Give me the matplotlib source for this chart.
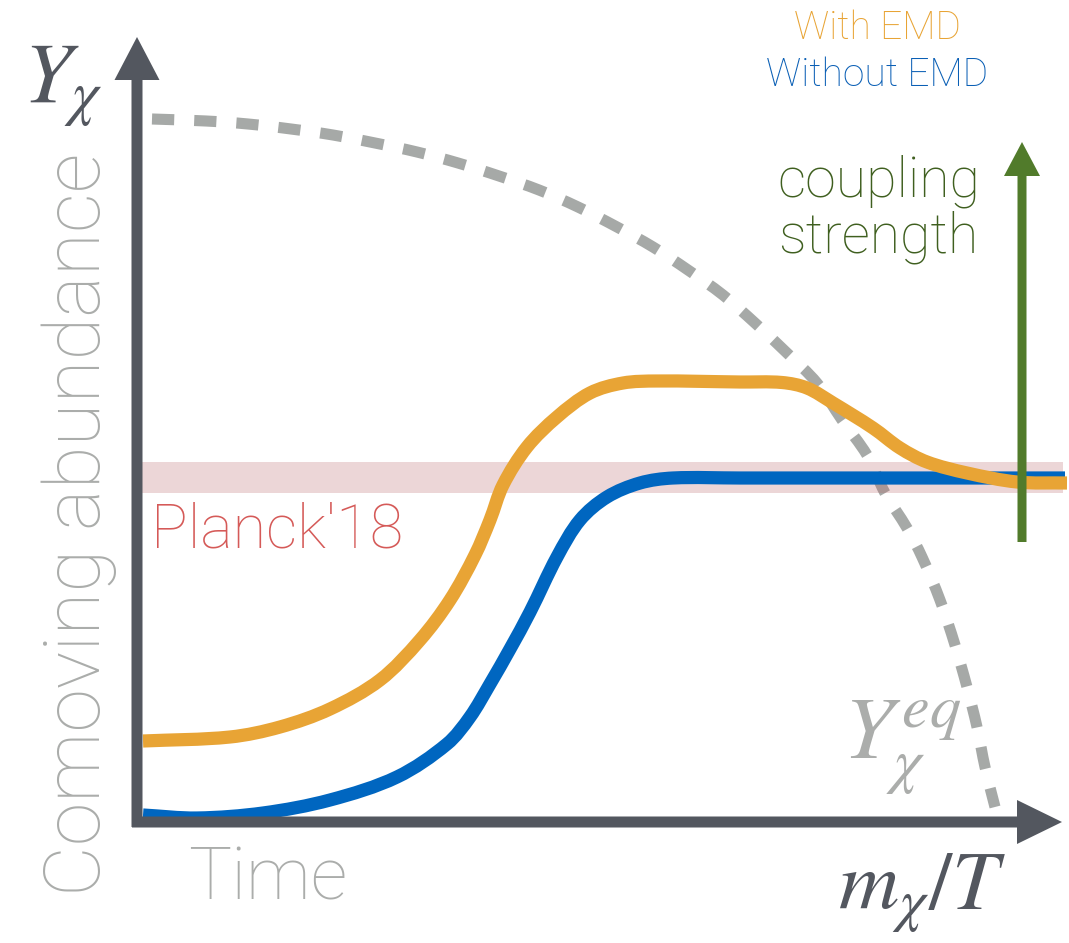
import matplotlib
matplotlib.use("Agg")
import math
import matplotlib.pyplot as plt
from matplotlib.path import Path
from matplotlib.patches import PathPatch

# ---------------- data (arbitrary schematic units) ----------------
# Equilibrium abundance Y_chi^eq (dashed)
eq_x = [0.15, 0.69, 1.11, 1.54, 1.96, 2.38, 2.80, 3.21, 3.62, 4.02, 4.41, 4.80,
        5.16, 5.51, 5.86, 6.18, 6.50, 6.80, 7.05, 7.30, 7.48, 7.70, 7.85, 8.03,
        8.18, 8.30, 8.40, 8.48, 8.58]
eq_y = [7.03, 7.01, 6.98, 6.93, 6.87, 6.79, 6.70, 6.59, 6.46, 6.32, 6.15, 5.95,
        5.75, 5.52, 5.27, 4.99, 4.69, 4.39, 4.02, 3.67, 3.29, 2.94, 2.65, 2.22,
        1.77, 1.35, 0.95, 0.55, 0.15]

# With EMD (orange)
emd_x = [0.06, 0.93, 1.43, 1.93, 2.43, 2.83, 3.13, 3.38, 3.53, 3.66, 3.90, 4.20,
         4.53, 4.86, 5.20, 6.03, 6.45, 6.70, 6.96, 7.36, 7.63, 7.90, 8.30, 8.80,
         9.30]
emd_y = [0.81, 0.85, 0.95, 1.13, 1.42, 1.82, 2.22, 2.67, 3.02, 3.37, 3.75, 4.05,
         4.29, 4.39, 4.41, 4.40, 4.395, 4.34, 4.19, 3.94, 3.74, 3.60, 3.49, 3.40,
         3.39]

# Without EMD (blue)
std_x = [0.06, 0.60, 1.26, 1.93, 2.60, 3.10, 3.33, 3.53, 3.73, 3.93, 4.20, 4.43,
         4.70, 5.03, 5.36, 6.03, 9.28]
std_y = [0.07, 0.04, 0.09, 0.22, 0.45, 0.78, 1.05, 1.38, 1.73, 2.10, 2.65, 3.02,
         3.25, 3.39, 3.44, 3.44, 3.44]

# Planck'18 band
planck_x = [0.0, 9.26]
planck_low = 3.29
planck_high = 3.60

# coupling-strength arrow (x, y_start, y_end)
coupling_arrow = (8.85, 2.80, 6.80)
# axis arrows
yaxis_top = 7.85
xaxis_right = 9.25

# ---------------- styling ----------------
C_AXIS = "#53575F"
C_ORANGE = "#E8A435"
C_BLUE = "#0066C0"
C_DASH = "#A6A9A7"
C_GREEN = "#517B2B"
C_GREEN_TXT = "#3F5F1F"
C_PLANCK = "#D55A58"
C_LABEL = "#ABADAB"

plt.rcParams["mathtext.fontset"] = "stix"
SANS = ["Roboto", "Lato", "DejaVu Sans"]


def smooth_path(xs, ys):
    """Smooth curve through the points (chord-length Catmull-Rom as Beziers)."""
    pts = list(zip(xs, ys))
    n = len(pts)
    t = [0.0]
    for i in range(1, n):
        d = math.hypot(pts[i][0] - pts[i - 1][0], pts[i][1] - pts[i - 1][1])
        t.append(t[-1] + max(d, 1e-9))
    tang = []
    for i in range(n):
        a = max(i - 1, 0)
        b = min(i + 1, n - 1)
        dt = t[b] - t[a]
        tang.append(((pts[b][0] - pts[a][0]) / dt, (pts[b][1] - pts[a][1]) / dt))
    verts = [pts[0]]
    codes = [Path.MOVETO]
    for i in range(n - 1):
        h = (t[i + 1] - t[i]) / 3.0
        c1 = (pts[i][0] + tang[i][0] * h, pts[i][1] + tang[i][1] * h)
        c2 = (pts[i + 1][0] - tang[i + 1][0] * h,
              pts[i + 1][1] - tang[i + 1][1] * h)
        verts += [c1, c2, pts[i + 1]]
        codes += [Path.CURVE4] * 3
    return Path(verts, codes)


fig = plt.figure(figsize=(10.69, 9.43), dpi=100)
ax = fig.add_axes([0, 0, 1, 1])
ax.set_xlim(-1.37, 9.32)
ax.set_ylim(-1.21, 8.22)
ax.axis("off")

# equilibrium curve
ax.add_patch(PathPatch(smooth_path(eq_x, eq_y), fill=False, edgecolor=C_DASH,
                       lw=8.0, linestyle=(0, (2.0, 1.8)), capstyle="butt",
                       zorder=1))
# Planck band
ax.fill_between(planck_x, planck_low, planck_high,
                color=(183 / 255, 95 / 255, 99 / 255), alpha=0.25, lw=0,
                zorder=2)
# curves
ax.add_patch(PathPatch(smooth_path(std_x, std_y), fill=False, edgecolor=C_BLUE,
                       lw=9.5, capstyle="butt", joinstyle="round", zorder=3))
ax.add_patch(PathPatch(smooth_path(emd_x, emd_y), fill=False,
                       edgecolor=C_ORANGE, lw=9.5, capstyle="butt",
                       joinstyle="round", zorder=4))

# coupling arrow
gx, gy0, gy1 = coupling_arrow
ax.arrow(gx, gy0, 0, gy1 - gy0, width=0.09, head_width=0.36, head_length=0.34,
         length_includes_head=True, color=C_GREEN, lw=0, zorder=5)

# axes arrows
ax.arrow(0, -0.05, 0, yaxis_top + 0.05, width=0.11, head_width=0.45,
         head_length=0.43, length_includes_head=True, color=C_AXIS, lw=0,
         zorder=6)
ax.arrow(-0.05, 0, xaxis_right + 0.05, 0, width=0.11, head_width=0.44,
         head_length=0.45, length_includes_head=True, color=C_AXIS, lw=0,
         zorder=6)

# texts
ax.text(7.40, 7.83, "With EMD", color=C_ORANGE, fontsize=28, family=SANS,
        weight="light", ha="center", va="baseline")
ax.text(7.40, 7.36, "Without EMD", color="#0A5FB5", fontsize=28, family=SANS,
        weight="light", ha="center", va="baseline")
ax.text(8.43, 6.26, "coupling", color=C_GREEN_TXT, fontsize=40, family=SANS,
        weight="light", ha="right", va="baseline")
ax.text(8.41, 5.69, "strength", color=C_GREEN_TXT, fontsize=40, family=SANS,
        weight="light", ha="right", va="baseline")
ax.text(0.14, 2.74, "Planck'18", color=C_PLANCK, fontsize=44, family=SANS,
        weight="light", ha="left", va="baseline")
ax.text(0.51, -0.77, "Time", color=C_LABEL, fontsize=52, family=SANS,
        weight="light", ha="left", va="baseline")
ax.text(-0.37, -0.74, "Comoving abundance", color=C_LABEL, fontsize=56.5,
        family=SANS, weight="light", rotation=90, rotation_mode="anchor",
        ha="left", va="baseline")

ax.text(-1.14, 7.19, r"$Y_\chi$", color=C_AXIS, fontsize=62,
        ha="left", va="baseline")
ax.text(7.01, -0.88, r"$m_\chi/T$", color=C_AXIS, fontsize=60,
        ha="left", va="baseline")
ax.text(7.06, 0.62, r"$Y_\chi^{eq}$", color=C_LABEL, fontsize=64,
        ha="left", va="baseline")

fig.savefig("out.png", dpi=100)
